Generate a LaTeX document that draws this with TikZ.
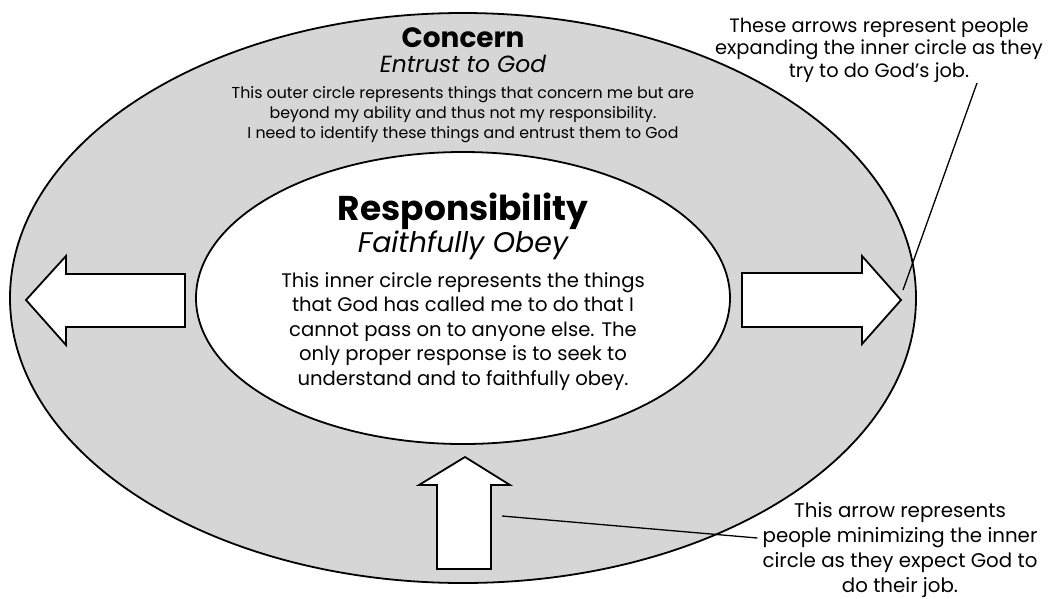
\documentclass[tikz,border=0pt]{standalone}
\usepackage{fontspec}
\setmainfont{Poppins}
\usetikzlibrary{positioning,shapes.geometric}

\begin{document}
\begin{tikzpicture}[
    x=1pt, y=-1pt,
 ring/.style = {
        draw, ellipse, line width=1.8pt, inner sep=0pt, outer sep=0pt},
 fatarrow/.style = {
        draw, fill=white, line width=1.8pt, line join=miter},
 title/.style = {
        font=\fontsize{#1}{#1}\selectfont\bfseries, inner sep=0pt, anchor=base},
 subtitle/.style = {
        font=\fontsize{#1}{#1}\selectfont\itshape, inner sep=0pt, anchor=base},
 blurb/.style = {
        align=center, inner sep=0pt, anchor=base},
 pointer/.style = {line width=1.3pt}
                    ]
\useasboundingbox (0,0) rectangle (1049,598);
% the two circles
\node (concern) [ring, fill={rgb,255:red,214;green,214;blue,214},
                 minimum width=906pt, minimum height=570pt] at (463,298) {};
\node (resp)    [ring, fill=white,
                 minimum width=534pt, minimum height=292pt] at (463,298) {};
% the texts in the outer circle (base = last line)
\node (concerntitle) [title=27.9]    at (463,47)  {Concern};
\node (entrust)      [subtitle=23.4] at (463,72)  {Entrust to God};
\node (concernbody)  [blurb, font=\fontsize{15.8}{20}\selectfont] at (463,138)
        {This outer circle represents things that concern me but are\\
         beyond my ability and thus not my responsibility.\\
         I need to identify these things and entrust them to God};
% the texts in the inner circle
\node (resptitle) [title=34.4]    at (463,220) {Responsibility};
\node (obey)      [subtitle=28.4] at (463,252) {Faithfully Obey};
\node (respbody)  [blurb, font=\fontsize{19.6}{24.5}\selectfont] at (463,385)
        {This inner circle represents the things\\
         that God has called me to do that I\\
         cannot pass on to anyone else. The\\
         only proper response is to seek to\\
         understand and to faithfully obey.};
% the three arrows
\draw[fatarrow] (26,300) coordinate (ltip) -- (66,256) -- (66,274) -- (185,274)
        -- (185,327) -- (66,327) -- (66,345) -- cycle;
\draw[fatarrow] (901,300) coordinate (rtip) -- (862,344) -- (862,327) -- (742,327)
        -- (742,273) -- (862,273) -- (862,256) -- cycle;
\draw[fatarrow] (465,457) coordinate (btip) -- (510,485) -- (491,485) -- (491,569)
        -- (437,569) -- (437,485) -- (419,485) -- cycle;
\coordinate (rpoint) at (903,290);
\coordinate (bpoint) at (502,516);
% the notes on the right
\node (expandnote) [blurb, font=\fontsize{19.4}{22.5}\selectfont] at (879,77)
        {These arrows represent people\\
         expanding the inner circle as they\\
         try to do God’s job.};
\node (minnote) [blurb, font=\fontsize{19.8}{25}\selectfont] at (900,592)
        {This arrow represents\\
         people minimizing the inner\\
         circle as they expect God to\\
         do their job.};
\draw[pointer] ([xshift=98pt] expandnote.south |- 0,83) coordinate (e) -- (rpoint);
\draw[pointer] ([xshift=-5pt] minnote.west |- 0,538) coordinate (m) -- (bpoint);
\end{tikzpicture}
\end{document}
